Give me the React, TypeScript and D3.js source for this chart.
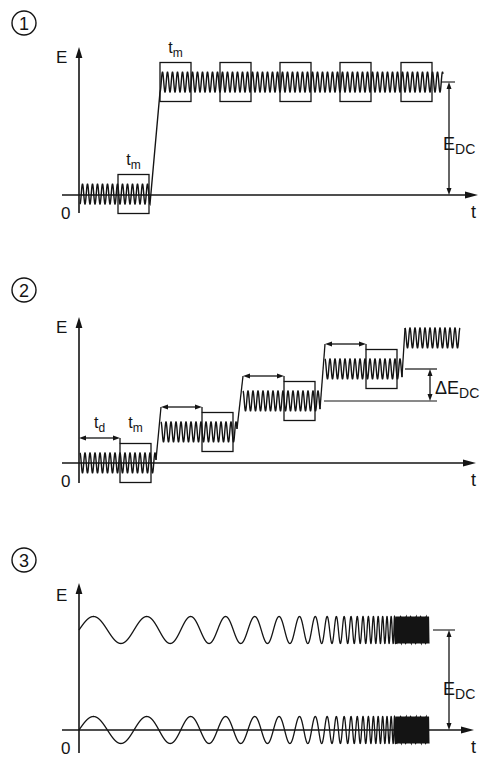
import React from "react";
import * as d3 from "d3";

const W = 483;
const H = 757;

// Time axis shared by all three panels (t measured from the E axis)
const T_DOMAIN = [0, 400];
const E_DOMAIN = [0, 150];

// ① single step of the DC level
const P1_SEGMENT_T = [[1, 71], [81, 364]];
const P1_LEVELS = [1, 113];
const P1_WINDOW_T = [39, 81, 141, 201, 261, 322];
const P1_WINDOW_SEG = [0, 1, 1, 1, 1, 1];
const P1_EDC = 113;

// ② staircase of DC levels, each held for t_d then measured for t_m
const P2_SEGMENT_T = [[1, 77], [82, 158], [164, 241], [246, 323], [326, 381]];
const P2_LEVELS = [0, 31, 62, 94, 125];
const P2_TD = 41;
const P2_TM = 31;
const P2_DELTA_STEPS = [2, 3];

// ③ frequency sweep, with and without DC offset
const P3_EDC = 100;
const P3_SWEEP_T = [0, 70, 120, 171, 211, 236, 314, 318, 350];
const P3_SWEEP_F = [0.017, 0.02, 0.027, 0.036, 0.048, 0.07, 0.25, 0.9, 0.9];

const RIPPLE_AMP = 10;
const RIPPLE_PERIOD = 5;
const WINDOW_HALF = 19.5;
const TM = 31;
const SWEEP_AMP = 13.5;

const INK = "#141414";
const FONT = "'Liberation Sans', Arial, sans-serif";
const WAVE_W = 1.4;
const BOX_W = 1.3;

const x = d3.scaleLinear().domain(T_DOMAIN).range([79, 479]);
const yFor = (base: number) => d3.scaleLinear().domain(E_DOMAIN).range([base, base - 150]);

type Pt = [number, number];

function ripple(t0: number, t1: number, level: number, phase0: number): Pt[] {
  const pts: Pt[] = [];
  for (let t = t0; t <= t1 + 1e-9; t += 0.2) {
    pts.push([t, level + RIPPLE_AMP * Math.cos((2 * Math.PI * (t - t0)) / RIPPLE_PERIOD + phase0)]);
  }
  return pts;
}

function sweep(level: number): Pt[] {
  const f = d3.scaleLinear().domain(P3_SWEEP_T).range(P3_SWEEP_F);
  const pts: Pt[] = [];
  const dt = 0.05;
  let phase = 0;
  const tEnd = P3_SWEEP_T[P3_SWEEP_T.length - 1];
  for (let t = 0; t <= tEnd + 1e-9; t += dt) {
    pts.push([t, level + SWEEP_AMP * Math.sin(2 * Math.PI * phase)]);
    phase += f(t) * dt;
  }
  return pts;
}

function tri(px: number, py: number, dir: "up" | "down" | "left" | "right", len: number, half: number) {
  let p: Pt[];
  if (dir === "up") p = [[px, py], [px - half, py + len], [px + half, py + len]];
  else if (dir === "down") p = [[px, py], [px - half, py - len], [px + half, py - len]];
  else if (dir === "right") p = [[px, py], [px - len, py - half], [px - len, py + half]];
  else p = [[px, py], [px + len, py - half], [px + len, py + half]];
  return <polygon points={p.map((q) => q.join(",")).join(" ")} fill={INK} />;
}

function Axes({ yTop, yAxis, yBottom, xEnd }: { yTop: number; yAxis: number; yBottom: number; xEnd: number }) {
  const ax = x(0);
  return (
    <g>
      <line x1={ax} y1={yTop + 8} x2={ax} y2={yBottom} stroke={INK} strokeWidth={1.6} />
      {tri(ax, yTop, "up", 11, 3.4)}
      <line x1={62} y1={yAxis} x2={xEnd - 8} y2={yAxis} stroke={INK} strokeWidth={1.6} />
      {tri(xEnd, yAxis, "right", 13, 3.4)}
    </g>
  );
}

function DimV({ px, y1, y2 }: { px: number; y1: number; y2: number }) {
  return (
    <g>
      <line x1={px} y1={y1 + 5} x2={px} y2={y2 - 5} stroke={INK} strokeWidth={1.3} />
      {tri(px, y1, "up", 7, 2.5)}
      {tri(px, y2, "down", 7, 2.5)}
    </g>
  );
}

function DimH({ x1, x2, py }: { x1: number; x2: number; py: number }) {
  return (
    <g>
      <line x1={x1 + 5} y1={py} x2={x2 - 5} y2={py} stroke={INK} strokeWidth={1.3} />
      {tri(x1, py, "left", 7, 2.5)}
      {tri(x2, py, "right", 7, 2.5)}
    </g>
  );
}

function Circled({ cx, cy, label }: { cx: number; cy: number; label: string }) {
  return (
    <g>
      <circle cx={cx} cy={cy} r={12} fill="none" stroke={INK} strokeWidth={1.4} />
      <text x={cx} y={cy + 6.5} textAnchor="middle" fontSize={18} fontFamily={FONT} fill={INK}>
        {label}
      </text>
    </g>
  );
}

function Sub({ px, py, main, sub, size = 17, subSize = 13, anchor = "start" }: any) {
  return (
    <text x={px} y={py} fontSize={size} fontFamily={FONT} fill={INK} textAnchor={anchor}>
      {main}
      <tspan fontSize={subSize} dy={4}>
        {sub}
      </tspan>
    </text>
  );
}

function AxisLabels({ yAxis, yTop }: { yAxis: number; yTop: number }) {
  return (
    <g fontFamily={FONT} fill={INK}>
      <text x={56} y={yTop + 16} fontSize={17}>E</text>
      <text x={61} y={yAxis + 24} fontSize={17}>0</text>
      <text x={471} y={yAxis + 23} fontSize={18}>t</text>
    </g>
  );
}

function Panel1() {
  const y = yFor(195);
  const line = d3.line<Pt>().x((d) => x(d[0])).y((d) => y(d[1]));
  const low = ripple(P1_SEGMENT_T[0][0], P1_SEGMENT_T[0][1], P1_LEVELS[0], Math.PI);
  const high = ripple(P1_SEGMENT_T[1][0], P1_SEGMENT_T[1][1], P1_LEVELS[1], Math.PI);
  const endT = P1_SEGMENT_T[1][1];
  return (
    <g>
      <Circled cx={24} cy={23} label="1" />
      <Axes yTop={47} yAxis={y(0)} yBottom={213} xEnd={478} />
      <AxisLabels yAxis={y(0)} yTop={47} />
      <path d={line([...low, ...high]) || ""} fill="none" stroke={INK} strokeWidth={WAVE_W} />
      {P1_WINDOW_T.map((t, i) => {
        const lv = P1_LEVELS[P1_WINDOW_SEG[i]];
        return (
          <rect key={i} x={x(t)} y={y(lv + WINDOW_HALF)} width={x(t + TM) - x(t)} height={y(lv - WINDOW_HALF) - y(lv + WINDOW_HALF)}
            fill="none" stroke={INK} strokeWidth={BOX_W} />
        );
      })}
      {[0, 1].map((i) => {
        const t = P1_WINDOW_T[i];
        const lv = P1_LEVELS[P1_WINDOW_SEG[i]];
        return <Sub key={i} px={x(t + TM / 2)} py={y(lv + WINDOW_HALF) - 10} main="t" sub="m" size={16} subSize={12} anchor="middle" />;
      })}
      <line x1={x(endT) - 2} y1={y(P1_EDC)} x2={x(endT) + 12} y2={y(P1_EDC)} stroke={INK} strokeWidth={1.1} />
      <DimV px={x(endT) + 6} y1={y(P1_EDC)} y2={y(0)} />
      <Sub px={443} py={150} main="E" sub="DC" size={18} subSize={14} />
    </g>
  );
}

function Panel2() {
  const y = yFor(463);
  const line = d3.line<Pt>().x((d) => x(d[0])).y((d) => y(d[1]));
  const segs = P2_SEGMENT_T.map(([a, b], i) => ripple(a, b, P2_LEVELS[i], 0));
  const markOffset = 25;
  const [lo, hi] = P2_DELTA_STEPS;
  const dimX = 430;
  return (
    <g>
      <Circled cx={24} cy={290} label="2" />
      <Axes yTop={317} yAxis={y(0)} yBottom={483} xEnd={476} />
      <AxisLabels yAxis={y(0)} yTop={317} />
      {segs.map((s, i) => (
        <path key={"w" + i} d={line(s) || ""} fill="none" stroke={INK} strokeWidth={WAVE_W} />
      ))}
      {segs.slice(1).map((s, k) => {
        const i = k + 1;
        const prev = segs[k][segs[k].length - 1];
        const topE = i < P2_LEVELS.length - 1 ? P2_LEVELS[i] + markOffset : P2_LEVELS[i] + RIPPLE_AMP;
        return <line key={"r" + i} x1={x(prev[0])} y1={y(prev[1])} x2={x(P2_SEGMENT_T[i][0])} y2={y(topE)} stroke={INK} strokeWidth={1.3} />;
      })}
      {P2_LEVELS.slice(0, 4).map((lv, i) => {
        const t0 = P2_SEGMENT_T[i][0] - (i === 0 ? 1 : 0);
        const tw = t0 + P2_TD;
        const markY = y(lv + markOffset);
        return (
          <g key={"m" + i}>
            <DimH x1={x(t0)} x2={x(tw)} py={markY} />
            <line x1={x(tw)} y1={markY} x2={x(tw)} y2={y(lv + WINDOW_HALF)} stroke={INK} strokeWidth={BOX_W} />
            <rect x={x(tw)} y={y(lv + WINDOW_HALF)} width={x(tw + P2_TM) - x(tw)} height={y(lv - WINDOW_HALF) - y(lv + WINDOW_HALF)}
              fill="none" stroke={INK} strokeWidth={BOX_W} />
          </g>
        );
      })}
      <Sub px={x(P2_TD / 2)} py={428} main="t" sub="d" size={16} subSize={12} anchor="middle" />
      <Sub px={x(P2_TD + P2_TM / 2)} py={428} main="t" sub="m" size={16} subSize={12} anchor="middle" />
      <line x1={x(P2_SEGMENT_T[lo + 1][0]) - 1} y1={y(P2_LEVELS[lo])} x2={437} y2={y(P2_LEVELS[lo])} stroke={INK} strokeWidth={1.2} />
      <line x1={x(P2_SEGMENT_T[hi + 1][0])} y1={y(P2_LEVELS[hi])} x2={437} y2={y(P2_LEVELS[hi])} stroke={INK} strokeWidth={1.2} />
      <DimV px={dimX} y1={y(P2_LEVELS[hi])} y2={y(P2_LEVELS[lo])} />
      <Sub px={435} py={394} main="ΔE" sub="DC" size={18} subSize={14} />
    </g>
  );
}

function Panel3() {
  const y = yFor(730);
  const line = d3.line<Pt>().x((d) => x(d[0])).y((d) => y(d[1]));
  const endT = P3_SWEEP_T[P3_SWEEP_T.length - 1];
  return (
    <g>
      <Circled cx={24} cy={560} label="3" />
      <Axes yTop={583} yAxis={y(0)} yBottom={753} xEnd={474} />
      <AxisLabels yAxis={y(0)} yTop={585} />
      <path d={line(sweep(P3_EDC)) || ""} fill="none" stroke={INK} strokeWidth={1.3} />
      <path d={line(sweep(0)) || ""} fill="none" stroke={INK} strokeWidth={1.3} />
      <line x1={x(endT) + 4} y1={y(P3_EDC)} x2={x(endT) + 26} y2={y(P3_EDC)} stroke={INK} strokeWidth={1.1} />
      <DimV px={x(endT) + 20} y1={y(P3_EDC)} y2={y(0)} />
      <Sub px={443} py={695} main="E" sub="DC" size={18} subSize={14} />
    </g>
  );
}

export default function App() {
  return (
    <svg width={W} height={H} viewBox={`0 0 ${W} ${H}`} style={{ position: "absolute", left: 0, top: 0, background: "#fff" }}>
      <rect width={W} height={H} fill="#fff" />
      <Panel1 />
      <Panel2 />
      <Panel3 />
    </svg>
  );
}
